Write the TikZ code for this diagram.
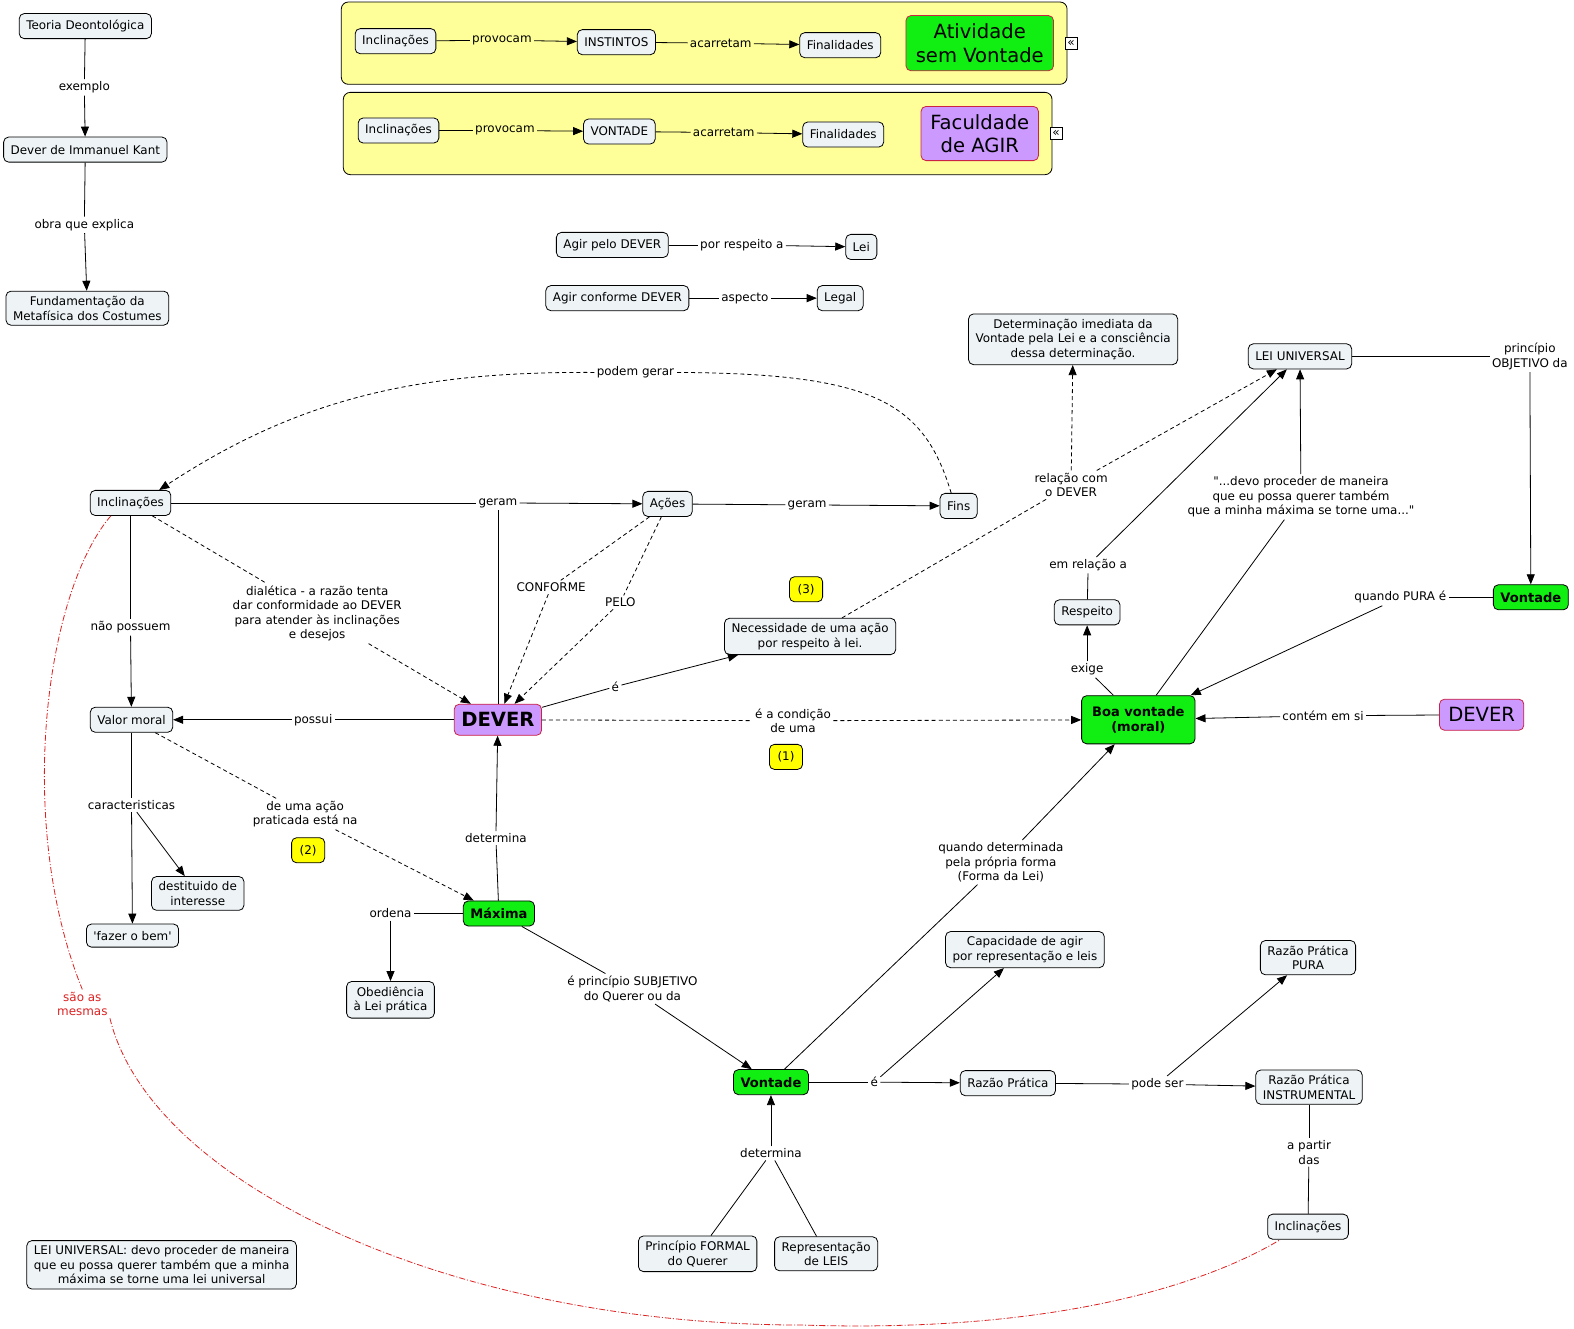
\documentclass[tikz,border=0pt]{standalone}
\usepackage{fontspec}
\setmainfont{DejaVu Sans}
\usetikzlibrary{arrows.meta}

\definecolor{cmapfill}{HTML}{EEF3F6}
\definecolor{keygreen}{HTML}{11EE11}
\definecolor{lilac}{HTML}{CC99FF}
\definecolor{lilacedge}{HTML}{CC2244}
\definecolor{groupyellow}{HTML}{FFFF99}
\definecolor{tagyellow}{HTML}{FFFF00}
\definecolor{samered}{HTML}{DD2222}

\begin{document}
\begin{tikzpicture}[x=1pt,y=-1pt,
  font=\fontsize{11.9}{14.5}\selectfont,
  line width=0.8pt,
  concept/.style={draw,rounded corners=5pt,fill=cmapfill,align=center,
                  inner xsep=7pt,inner ysep=5pt,minimum height=25pt},
  keynode/.style={concept,fill=keygreen,font=\fontsize{13}{15.5}\selectfont\bfseries},
  lilacnode/.style={concept,fill=lilac,draw=lilacedge,font=\fontsize{19.5}{23}\selectfont},
  tagnode/.style={concept,fill=tagyellow,minimum width=33pt},
  linkph/.style={align=center,inner sep=2pt},
  group/.style={draw,rounded corners=7pt,fill=groupyellow},
  collapse/.style={draw,fill=white,inner sep=0pt,minimum size=12pt,
                   font=\fontsize{12}{12}\selectfont},
  flow/.style={-{Triangle[length=10pt,width=8pt]}},
  dline/.style={dash pattern=on 4pt off 3pt},
  dflow/.style={flow,dline},
  same/.style={samered,dash pattern=on 6pt off 2pt on 1pt off 2pt}]

\fill[white] (0,0) rectangle (1568,1323);
\useasboundingbox (0,0) rectangle (1568,1323);

% left column
\node[concept] (teoria) at (85,26) {Teoria Deontológica};
\node[concept] (kant) at (85,149) {Dever de Immanuel Kant};
\node[concept] (fund) at (87,307) {Fundamentação da\\Metafísica dos Costumes};
\node[linkph] (exemplo) at (84,87) {exemplo};
\node[linkph] (obra) at (84,224) {obra que explica};
\draw (teoria) -- (exemplo);
\draw[flow] (exemplo) -- (kant);
\draw (kant) -- (obra);
\draw[flow] (obra) -- (fund);

% the two yellow groups
\node[group,minimum width=723pt,minimum height=82pt] (grpA) at (701.5,43) {};
\node[group,minimum width=706pt,minimum height=82pt] (grpB) at (695,133) {};

\node[concept] (incA) at (394,41) {Inclinações};
\node[linkph] (provA) at (500,40) {provocam};
\node[concept] (instintos) at (614,42) {INSTINTOS};
\node[linkph] (acarA) at (718,43) {acarretam};
\node[concept] (finA) at (837,45) {Finalidades};
\node[concept,fill=keygreen,draw=lilacedge,font=\fontsize{19.5}{23}\selectfont,
      minimum width=147pt,minimum height=55pt] (ativ) at (976,43) {Atividade\\sem Vontade};
\node[collapse] (colA) at (1067,43) {«};
\draw (incA) -- (provA);
\draw[flow] (provA) -- (instintos);
\draw (instintos) -- (acarA);
\draw[flow] (acarA) -- (finA);

\node[concept] (incB) at (397,130) {Inclinações};
\node[linkph] (provB) at (503,130) {provocam};
\node[concept] (vontA) at (617,131) {VONTADE};
\node[linkph] (acarB) at (721,132) {acarretam};
\node[concept] (finB) at (840,134) {Finalidades};
\node[lilacnode,minimum width=117pt,minimum height=54pt] (facul) at (976,133) {Faculdade\\de AGIR};
\node[collapse] (colB) at (1052,133) {«};
\draw (incB) -- (provB);
\draw[flow] (provB) -- (vontA);
\draw (vontA) -- (acarB);
\draw[flow] (acarB) -- (finB);

% agir pelo / conforme
\node[concept] (agirpelo) at (610,244) {Agir pelo DEVER};
\node[linkph] (porresp) at (739,244) {por respeito a};
\node[concept] (lei) at (858,246) {Lei};
\node[concept] (agirconf) at (615,297) {Agir conforme DEVER};
\node[linkph] (aspecto) at (742,297) {aspecto};
\node[concept] (legal) at (837,297) {Legal};
\draw (agirpelo) -- (porresp);
\draw[flow] (porresp) -- (lei);
\draw (agirconf) -- (aspecto);
\draw[flow] (aspecto) -- (legal);

% concepts of the main map
\node[concept] (inclM) at (130,501) {Inclinações};
\node[concept] (acoes) at (665,502) {Ações};
\node[concept] (fins) at (955,504) {Fins};
\node[concept] (valor) at (131,717) {Valor moral};
\node[lilacnode,font=\fontsize{19.5}{23}\selectfont\bfseries,minimum height=31pt] (dever) at (496,717) {DEVER};
\node[concept] (necess) at (807,634) {Necessidade de uma ação\\por respeito à lei.};
\node[tagnode] (tagC) at (803,587) {(3)};
\node[tagnode] (tagA) at (783,754) {(1)};
\node[tagnode] (tagB) at (307,847) {(2)};
\node[concept] (destit) at (197,890) {destituido de\\interesse};
\node[concept,minimum height=23pt] (fazer) at (132,932) {\textquotesingle fazer o bem\textquotesingle};
\node[keynode] (maxima) at (497,910) {Máxima};
\node[concept] (obed) at (389,996) {Obediência\\à Lei prática};
\node[keynode] (vontB) at (768,1078) {Vontade};
\node[concept] (capac) at (1021,946) {Capacidade de agir\\por representação e leis};
\node[concept] (razao) at (1004,1079) {Razão Prática};
\node[concept] (pura) at (1303,954) {Razão Prática\\PURA};
\node[concept] (instrum) at (1304,1083) {Razão Prática\\INSTRUMENTAL};
\node[concept] (inclB) at (1303,1222) {Inclinações};
\node[concept] (formal) at (695,1249) {Princípio FORMAL\\do Querer};
\node[concept] (repres) at (823,1249) {Representação\\de LEIS};
\node[concept] (nota) at (161,1260) {LEI UNIVERSAL: devo proceder de maneira\\que eu possa querer também que a minha\\máxima se torne uma lei universal};
\node[concept] (determ) at (1069,338) {Determinação imediata da\\Vontade pela Lei e a consciência\\dessa determinação.};
\node[concept] (leiuni) at (1295,355) {LEI UNIVERSAL};
\node[keynode] (vontR) at (1525,595) {Vontade};
\node[concept] (respeito) at (1083,610) {Respeito};
\node[keynode,minimum width=113pt,minimum height=48pt] (boa) at (1134,717) {Boa vontade\\(moral)};
\node[lilacnode,minimum width=84pt,minimum height=31pt] (deverR) at (1476,712) {DEVER};

% linking phrases
\node[linkph] (geramA) at (496,501) {geram};
\node[linkph] (geramB) at (804,503) {geram};
\node[linkph] (podem) at (633,371) {podem gerar};
\node[linkph] (conforme) at (549,585) {CONFORME};
\node[linkph] (pelo) at (618,600) {PELO};
\node[linkph] (dialetica) at (316,611) {dialética - a razão tenta\\dar conformidade ao DEVER\\para atender às inclinações\\e desejos};
\node[linkph] (naoposs) at (130,625) {não possuem};
\node[linkph] (possui) at (312,717) {possui};
\node[linkph] (eA) at (613,684) {é};
\node[linkph] (condicao) at (790,718) {é a condição\\de uma};
\node[linkph] (determA) at (494,835) {determina};
\node[linkph] (deuma) at (304,811) {de uma ação\\praticada está na};
\node[linkph] (caract) at (131,802) {caracteristicas};
\node[linkph] (ordena) at (389,910) {ordena};
\node[linkph] (subjetivo) at (630,985) {é princípio SUBJETIVO\\do Querer ou da};
\node[linkph] (qdeterm) at (997,859) {quando determinada\\pela própria forma\\(Forma da Lei)};
\node[linkph] (eB) at (871,1078) {é};
\node[linkph] (podeser) at (1153,1080) {pode ser};
\node[linkph] (apartir) at (1304,1148) {a partir\\das};
\node[linkph] (determB) at (768,1149) {determina};
\node[linkph] (relacao) at (1067,483) {relação com\\o DEVER};
\node[linkph] (emrel) at (1084,563) {em relação a};
\node[linkph] (exige) at (1083,667) {exige};
\node[linkph] (devo) at (1296,495) {\textquotedbl...devo proceder de maneira\\que eu possa querer também\\que a minha máxima se torne uma...\textquotedbl};
\node[linkph] (objetivo) at (1524,355) {princípio\\OBJETIVO da};
\node[linkph] (quandopura) at (1395,595) {quando PURA é};
\node[linkph] (contem) at (1318,713) {contém em si};
\node[linkph,text=samered] (mesmas) at (82,1000) {são as\\mesmas};

% connectors
\draw (inclM) -- (geramA);
\draw (dever) -- (geramA);
\draw[flow] (geramA) -- (acoes);
\draw (acoes) -- (geramB);
\draw[flow] (geramB) -- (fins);
\draw[dline] (fins.120) .. controls (920,400) and (870,372) .. (podem.east);
\draw[dflow] (podem.west) .. controls (420,370) and (300,395) .. ([xshift=-12pt]inclM.north east);
\draw[dline] (acoes) -- (conforme);
\draw[dflow] (conforme) -- (dever);
\draw[dline] (acoes) -- (pelo);
\draw[dflow] (pelo) -- (dever);
\draw[dline] (inclM) -- (dialetica);
\draw[dflow] (dialetica) -- (dever);
\draw (inclM) -- (naoposs);
\draw[flow] (naoposs) -- (valor);
\draw (dever) -- (possui);
\draw[flow] (possui) -- (valor);
\draw (dever) -- (eA);
\draw[flow] (eA) -- (necess);
\draw[dline] (dever) -- (condicao);
\draw[dflow] (condicao) -- (boa);
\draw (maxima) -- (determA);
\draw[flow] (determA) -- (dever);
\draw[dline] (valor) -- (deuma);
\draw[dflow] (deuma) -- (maxima);
\draw (valor) -- (caract);
\draw[flow] (caract) -- (fazer);
\draw[flow] (caract) -- (destit);
\draw (maxima) -- (ordena);
\draw[flow] (ordena) -- (obed);
\draw (maxima) -- (subjetivo);
\draw[flow] (subjetivo) -- (vontB);
\draw (vontB) -- (qdeterm);
\draw[flow] (qdeterm) -- (boa);
\draw (vontB) -- (eB);
\draw[flow] (eB) -- (razao);
\draw[flow] (eB) -- (capac);
\draw (razao) -- (podeser);
\draw[flow] (podeser) -- (instrum);
\draw[flow] (podeser) -- (pura);
\draw (instrum) -- (apartir);
\draw (apartir) -- (inclB);
\draw (formal) -- (determB);
\draw (repres) -- (determB);
\draw[flow] (determB) -- (vontB);
\draw[dline] (necess) -- (relacao);
\draw[dflow] (relacao) -- (determ);
\draw[dflow] (relacao) -- (leiuni);
\draw (respeito) -- (emrel);
\draw[flow] (emrel) -- (leiuni);
\draw (boa) -- (exige);
\draw[flow] (exige) -- (respeito);
\draw (boa) -- (devo);
\draw[flow] (devo) -- (leiuni);
\draw (leiuni) -- (objetivo);
\draw[flow] (objetivo) -- (vontR);
\draw (vontR) -- (quandopura);
\draw[flow] (quandopura) -- (boa);
\draw (deverR) -- (contem);
\draw[flow] (contem) -- (boa);
% the two "Inclinações" are the same
\draw[same] ([xshift=21pt]inclM.south west) .. controls (45,590) and (15,820) .. (mesmas.north);
\draw[same] (mesmas.south east) .. controls (150,1180) and (450,1320) .. (800,1320)
  .. controls (1050,1328) and (1200,1280) .. ([xshift=13pt]inclB.south west);
\end{tikzpicture}
\end{document}
